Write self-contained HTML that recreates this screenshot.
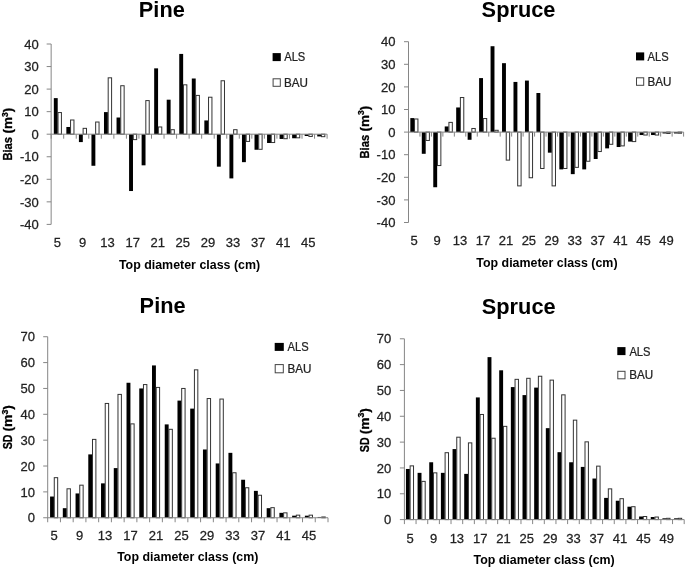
<!DOCTYPE html>
<html><head><meta charset="utf-8"><style>
html,body{margin:0;padding:0;background:#fff;}
body{width:685px;height:567px;overflow:hidden;}
svg{display:block;font-family:"Liberation Sans", sans-serif;filter:grayscale(1);}
text{-webkit-font-smoothing:antialiased;}
.t{stroke:#222;stroke-width:0.25px;}
</style></head><body>
<svg width="685" height="567" viewBox="0 0 685 567">
<rect width="685" height="567" fill="#fff"/>
<rect x="53.82" y="98.12" width="3.9" height="36.08" fill="#000"/>
<rect x="58.02" y="112.55" width="3.4" height="21.65" fill="#fff" stroke="#333" stroke-width="1"/>
<rect x="66.36" y="126.98" width="3.9" height="7.22" fill="#000"/>
<rect x="70.56" y="119.99" width="3.4" height="14.21" fill="#fff" stroke="#333" stroke-width="1"/>
<rect x="78.91" y="134.2" width="3.9" height="7.89" fill="#000"/>
<rect x="83.11" y="128.34" width="3.4" height="5.86" fill="#fff" stroke="#333" stroke-width="1"/>
<rect x="91.45" y="134.2" width="3.9" height="31.57" fill="#000"/>
<rect x="95.65" y="122.02" width="3.4" height="12.18" fill="#fff" stroke="#333" stroke-width="1"/>
<rect x="103.99" y="112.1" width="3.9" height="22.1" fill="#000"/>
<rect x="108.19" y="77.82" width="3.4" height="56.38" fill="#fff" stroke="#333" stroke-width="1"/>
<rect x="116.54" y="117.51" width="3.9" height="16.69" fill="#000"/>
<rect x="120.74" y="85.72" width="3.4" height="48.48" fill="#fff" stroke="#333" stroke-width="1"/>
<rect x="129.08" y="134.2" width="3.9" height="56.83" fill="#000"/>
<rect x="133.28" y="134.2" width="3.4" height="5.41" fill="#fff" stroke="#333" stroke-width="1"/>
<rect x="141.62" y="134.2" width="3.9" height="31.12" fill="#000"/>
<rect x="145.82" y="100.6" width="3.4" height="33.6" fill="#fff" stroke="#333" stroke-width="1"/>
<rect x="154.17" y="68.35" width="3.9" height="65.85" fill="#000"/>
<rect x="158.37" y="126.98" width="3.4" height="7.22" fill="#fff" stroke="#333" stroke-width="1"/>
<rect x="166.71" y="99.7" width="3.9" height="34.5" fill="#000"/>
<rect x="170.91" y="129.69" width="3.4" height="4.51" fill="#fff" stroke="#333" stroke-width="1"/>
<rect x="179.25" y="53.92" width="3.9" height="80.28" fill="#000"/>
<rect x="183.45" y="84.82" width="3.4" height="49.38" fill="#fff" stroke="#333" stroke-width="1"/>
<rect x="191.8" y="78.5" width="3.9" height="55.7" fill="#000"/>
<rect x="196" y="95.41" width="3.4" height="38.79" fill="#fff" stroke="#333" stroke-width="1"/>
<rect x="204.34" y="120.44" width="3.9" height="13.76" fill="#000"/>
<rect x="208.54" y="97.22" width="3.4" height="36.98" fill="#fff" stroke="#333" stroke-width="1"/>
<rect x="216.88" y="134.2" width="3.9" height="32.47" fill="#000"/>
<rect x="221.08" y="80.76" width="3.4" height="53.44" fill="#fff" stroke="#333" stroke-width="1"/>
<rect x="229.43" y="134.2" width="3.9" height="44.2" fill="#000"/>
<rect x="233.63" y="129.69" width="3.4" height="4.51" fill="#fff" stroke="#333" stroke-width="1"/>
<rect x="241.97" y="134.2" width="3.9" height="27.96" fill="#000"/>
<rect x="246.17" y="134.2" width="3.4" height="7.22" fill="#fff" stroke="#333" stroke-width="1"/>
<rect x="254.51" y="134.2" width="3.9" height="15.56" fill="#000"/>
<rect x="258.71" y="134.2" width="3.4" height="15.11" fill="#fff" stroke="#333" stroke-width="1"/>
<rect x="267.06" y="134.2" width="3.9" height="8.79" fill="#000"/>
<rect x="271.26" y="134.2" width="3.4" height="8.34" fill="#fff" stroke="#333" stroke-width="1"/>
<rect x="279.6" y="134.2" width="3.9" height="4.74" fill="#000"/>
<rect x="283.8" y="134.2" width="3.4" height="4.51" fill="#fff" stroke="#333" stroke-width="1"/>
<rect x="292.14" y="134.2" width="3.9" height="4.06" fill="#000"/>
<rect x="296.34" y="134.2" width="3.4" height="3.61" fill="#fff" stroke="#333" stroke-width="1"/>
<rect x="304.69" y="134.2" width="3.9" height="1.8" fill="#000"/>
<rect x="308.89" y="134.2" width="3.4" height="2.25" fill="#fff" stroke="#333" stroke-width="1"/>
<rect x="317.23" y="134.2" width="3.9" height="2.25" fill="#000"/>
<rect x="321.43" y="134.2" width="3.4" height="2.48" fill="#fff" stroke="#333" stroke-width="1"/>
<line x1="51.15" y1="44" x2="51.15" y2="224.4" stroke="#868686" stroke-width="1"/>
<line x1="46.65" y1="224.4" x2="51.15" y2="224.4" stroke="#868686" stroke-width="1"/>
<text class="t" transform="translate(38.7 229.1) scale(1.05 1)" text-anchor="end" font-size="12.4" fill="#222">-40</text>
<line x1="46.65" y1="201.85" x2="51.15" y2="201.85" stroke="#868686" stroke-width="1"/>
<text class="t" transform="translate(38.7 206.55) scale(1.05 1)" text-anchor="end" font-size="12.4" fill="#222">-30</text>
<line x1="46.65" y1="179.3" x2="51.15" y2="179.3" stroke="#868686" stroke-width="1"/>
<text class="t" transform="translate(38.7 184) scale(1.05 1)" text-anchor="end" font-size="12.4" fill="#222">-20</text>
<line x1="46.65" y1="156.75" x2="51.15" y2="156.75" stroke="#868686" stroke-width="1"/>
<text class="t" transform="translate(38.7 161.45) scale(1.05 1)" text-anchor="end" font-size="12.4" fill="#222">-10</text>
<line x1="46.65" y1="134.2" x2="51.15" y2="134.2" stroke="#868686" stroke-width="1"/>
<text class="t" transform="translate(38.7 138.9) scale(1.05 1)" text-anchor="end" font-size="12.4" fill="#222">0</text>
<line x1="46.65" y1="111.65" x2="51.15" y2="111.65" stroke="#868686" stroke-width="1"/>
<text class="t" transform="translate(38.7 116.35) scale(1.05 1)" text-anchor="end" font-size="12.4" fill="#222">10</text>
<line x1="46.65" y1="89.1" x2="51.15" y2="89.1" stroke="#868686" stroke-width="1"/>
<text class="t" transform="translate(38.7 93.8) scale(1.05 1)" text-anchor="end" font-size="12.4" fill="#222">20</text>
<line x1="46.65" y1="66.55" x2="51.15" y2="66.55" stroke="#868686" stroke-width="1"/>
<text class="t" transform="translate(38.7 71.25) scale(1.05 1)" text-anchor="end" font-size="12.4" fill="#222">30</text>
<line x1="46.65" y1="44" x2="51.15" y2="44" stroke="#868686" stroke-width="1"/>
<text class="t" transform="translate(38.7 48.7) scale(1.05 1)" text-anchor="end" font-size="12.4" fill="#222">40</text>
<line x1="50.65" y1="134.2" x2="327.1" y2="134.2" stroke="#868686" stroke-width="1"/>
<line x1="51.15" y1="134.2" x2="51.15" y2="138.7" stroke="#868686" stroke-width="1"/>
<line x1="63.69" y1="134.2" x2="63.69" y2="138.7" stroke="#868686" stroke-width="1"/>
<line x1="76.24" y1="134.2" x2="76.24" y2="138.7" stroke="#868686" stroke-width="1"/>
<line x1="88.78" y1="134.2" x2="88.78" y2="138.7" stroke="#868686" stroke-width="1"/>
<line x1="101.32" y1="134.2" x2="101.32" y2="138.7" stroke="#868686" stroke-width="1"/>
<line x1="113.87" y1="134.2" x2="113.87" y2="138.7" stroke="#868686" stroke-width="1"/>
<line x1="126.41" y1="134.2" x2="126.41" y2="138.7" stroke="#868686" stroke-width="1"/>
<line x1="138.95" y1="134.2" x2="138.95" y2="138.7" stroke="#868686" stroke-width="1"/>
<line x1="151.5" y1="134.2" x2="151.5" y2="138.7" stroke="#868686" stroke-width="1"/>
<line x1="164.04" y1="134.2" x2="164.04" y2="138.7" stroke="#868686" stroke-width="1"/>
<line x1="176.58" y1="134.2" x2="176.58" y2="138.7" stroke="#868686" stroke-width="1"/>
<line x1="189.13" y1="134.2" x2="189.13" y2="138.7" stroke="#868686" stroke-width="1"/>
<line x1="201.67" y1="134.2" x2="201.67" y2="138.7" stroke="#868686" stroke-width="1"/>
<line x1="214.21" y1="134.2" x2="214.21" y2="138.7" stroke="#868686" stroke-width="1"/>
<line x1="226.75" y1="134.2" x2="226.75" y2="138.7" stroke="#868686" stroke-width="1"/>
<line x1="239.3" y1="134.2" x2="239.3" y2="138.7" stroke="#868686" stroke-width="1"/>
<line x1="251.84" y1="134.2" x2="251.84" y2="138.7" stroke="#868686" stroke-width="1"/>
<line x1="264.38" y1="134.2" x2="264.38" y2="138.7" stroke="#868686" stroke-width="1"/>
<line x1="276.93" y1="134.2" x2="276.93" y2="138.7" stroke="#868686" stroke-width="1"/>
<line x1="289.47" y1="134.2" x2="289.47" y2="138.7" stroke="#868686" stroke-width="1"/>
<line x1="302.01" y1="134.2" x2="302.01" y2="138.7" stroke="#868686" stroke-width="1"/>
<line x1="314.56" y1="134.2" x2="314.56" y2="138.7" stroke="#868686" stroke-width="1"/>
<line x1="327.1" y1="134.2" x2="327.1" y2="138.7" stroke="#868686" stroke-width="1"/>
<text class="t" transform="translate(57.42 247.3) scale(1.05 1)" text-anchor="middle" font-size="12.4" fill="#222">5</text>
<text class="t" transform="translate(82.51 247.3) scale(1.05 1)" text-anchor="middle" font-size="12.4" fill="#222">9</text>
<text class="t" transform="translate(107.59 247.3) scale(1.05 1)" text-anchor="middle" font-size="12.4" fill="#222">13</text>
<text class="t" transform="translate(132.68 247.3) scale(1.05 1)" text-anchor="middle" font-size="12.4" fill="#222">17</text>
<text class="t" transform="translate(157.77 247.3) scale(1.05 1)" text-anchor="middle" font-size="12.4" fill="#222">21</text>
<text class="t" transform="translate(182.85 247.3) scale(1.05 1)" text-anchor="middle" font-size="12.4" fill="#222">25</text>
<text class="t" transform="translate(207.94 247.3) scale(1.05 1)" text-anchor="middle" font-size="12.4" fill="#222">29</text>
<text class="t" transform="translate(233.03 247.3) scale(1.05 1)" text-anchor="middle" font-size="12.4" fill="#222">33</text>
<text class="t" transform="translate(258.11 247.3) scale(1.05 1)" text-anchor="middle" font-size="12.4" fill="#222">37</text>
<text class="t" transform="translate(283.2 247.3) scale(1.05 1)" text-anchor="middle" font-size="12.4" fill="#222">41</text>
<text class="t" transform="translate(308.29 247.3) scale(1.05 1)" text-anchor="middle" font-size="12.4" fill="#222">45</text>
<text transform="translate(161.8 16.5) scale(0.99 1)" text-anchor="middle" font-size="22" font-weight="bold" fill="#000">Pine</text>
<text transform="translate(189.5 269.2) scale(0.92 1)" text-anchor="middle" font-size="13.5" font-weight="bold" fill="#000">Top diameter class (cm)</text>
<text transform="translate(11.9 160.6) rotate(-90) scale(0.83 1)" font-size="13.5" font-weight="bold" fill="#000" stroke="#000" stroke-width="0.3">Bias</text>
<text transform="translate(11.9 133.5) rotate(-90) scale(1.0 1)" font-size="13.5" font-weight="bold" fill="#000" stroke="#000" stroke-width="0.3">(m<tspan font-size="8.5" dy="-4.4">3</tspan><tspan dy="4.4">)</tspan></text>
<rect x="272.6" y="53.1" width="8.2" height="8" fill="#000"/>
<text class="t" transform="translate(284.2 61) scale(0.9 1)" font-size="12.4" fill="#222">ALS</text>
<rect x="273.1" y="78.8" width="7.2" height="7.5" fill="#fff" stroke="#444" stroke-width="1"/>
<text class="t" transform="translate(284 86.5) scale(0.94 1)" font-size="12.4" fill="#222">BAU</text>
<rect x="410.33" y="118.09" width="3.9" height="14.01" fill="#000"/>
<rect x="414.53" y="118.99" width="3.4" height="13.11" fill="#fff" stroke="#333" stroke-width="1"/>
<rect x="421.79" y="132.1" width="3.9" height="21.7" fill="#000"/>
<rect x="425.99" y="132.1" width="3.4" height="8.36" fill="#fff" stroke="#333" stroke-width="1"/>
<rect x="433.26" y="132.1" width="3.9" height="55.14" fill="#000"/>
<rect x="437.46" y="132.1" width="3.4" height="33.45" fill="#fff" stroke="#333" stroke-width="1"/>
<rect x="444.72" y="126.45" width="3.9" height="5.65" fill="#000"/>
<rect x="448.92" y="122.38" width="3.4" height="9.72" fill="#fff" stroke="#333" stroke-width="1"/>
<rect x="456.18" y="107.47" width="3.9" height="24.63" fill="#000"/>
<rect x="460.38" y="97.52" width="3.4" height="34.58" fill="#fff" stroke="#333" stroke-width="1"/>
<rect x="467.64" y="132.1" width="3.9" height="7.68" fill="#000"/>
<rect x="471.84" y="128.48" width="3.4" height="3.62" fill="#fff" stroke="#333" stroke-width="1"/>
<rect x="479.11" y="78.09" width="3.9" height="54.01" fill="#000"/>
<rect x="483.31" y="118.54" width="3.4" height="13.56" fill="#fff" stroke="#333" stroke-width="1"/>
<rect x="490.57" y="46.22" width="3.9" height="85.88" fill="#000"/>
<rect x="494.77" y="130.29" width="3.4" height="1.81" fill="#fff" stroke="#333" stroke-width="1"/>
<rect x="502.03" y="63.17" width="3.9" height="68.93" fill="#000"/>
<rect x="506.23" y="132.1" width="3.4" height="28.02" fill="#fff" stroke="#333" stroke-width="1"/>
<rect x="513.49" y="81.93" width="3.9" height="50.17" fill="#000"/>
<rect x="517.69" y="132.1" width="3.4" height="53.79" fill="#fff" stroke="#333" stroke-width="1"/>
<rect x="524.96" y="80.57" width="3.9" height="51.53" fill="#000"/>
<rect x="529.16" y="132.1" width="3.4" height="45.65" fill="#fff" stroke="#333" stroke-width="1"/>
<rect x="536.42" y="93" width="3.9" height="39.1" fill="#000"/>
<rect x="540.62" y="132.1" width="3.4" height="36.39" fill="#fff" stroke="#333" stroke-width="1"/>
<rect x="547.88" y="132.1" width="3.9" height="20.57" fill="#000"/>
<rect x="552.08" y="132.1" width="3.4" height="53.79" fill="#fff" stroke="#333" stroke-width="1"/>
<rect x="559.34" y="132.1" width="3.9" height="37.29" fill="#000"/>
<rect x="563.54" y="132.1" width="3.4" height="36.39" fill="#fff" stroke="#333" stroke-width="1"/>
<rect x="570.81" y="132.1" width="3.9" height="42.04" fill="#000"/>
<rect x="575.01" y="132.1" width="3.4" height="35.26" fill="#fff" stroke="#333" stroke-width="1"/>
<rect x="582.27" y="132.1" width="3.9" height="37.29" fill="#000"/>
<rect x="586.47" y="132.1" width="3.4" height="29.15" fill="#fff" stroke="#333" stroke-width="1"/>
<rect x="593.73" y="132.1" width="3.9" height="26.89" fill="#000"/>
<rect x="597.93" y="132.1" width="3.4" height="19.44" fill="#fff" stroke="#333" stroke-width="1"/>
<rect x="605.19" y="132.1" width="3.9" height="16.27" fill="#000"/>
<rect x="609.39" y="132.1" width="3.4" height="12.2" fill="#fff" stroke="#333" stroke-width="1"/>
<rect x="616.66" y="132.1" width="3.9" height="14.92" fill="#000"/>
<rect x="620.86" y="132.1" width="3.4" height="13.79" fill="#fff" stroke="#333" stroke-width="1"/>
<rect x="628.12" y="132.1" width="3.9" height="9.49" fill="#000"/>
<rect x="632.32" y="132.1" width="3.4" height="9.49" fill="#fff" stroke="#333" stroke-width="1"/>
<rect x="639.58" y="132.1" width="3.9" height="2.94" fill="#000"/>
<rect x="643.78" y="132.1" width="3.4" height="2.94" fill="#fff" stroke="#333" stroke-width="1"/>
<rect x="651.04" y="132.1" width="3.9" height="2.94" fill="#000"/>
<rect x="655.24" y="132.1" width="3.4" height="2.94" fill="#fff" stroke="#333" stroke-width="1"/>
<rect x="662.51" y="132.1" width="3.9" height="1.36" fill="#000"/>
<rect x="666.71" y="132.1" width="3.4" height="1.36" fill="#fff" stroke="#333" stroke-width="1"/>
<rect x="673.97" y="132.1" width="3.9" height="1.36" fill="#000"/>
<rect x="678.17" y="132.1" width="3.4" height="1.13" fill="#fff" stroke="#333" stroke-width="1"/>
<line x1="408.5" y1="41.7" x2="408.5" y2="222.5" stroke="#868686" stroke-width="1"/>
<line x1="404" y1="222.5" x2="408.5" y2="222.5" stroke="#868686" stroke-width="1"/>
<text class="t" transform="translate(395.4 227.2) scale(1.05 1)" text-anchor="end" font-size="12.4" fill="#222">-40</text>
<line x1="404" y1="199.9" x2="408.5" y2="199.9" stroke="#868686" stroke-width="1"/>
<text class="t" transform="translate(395.4 204.6) scale(1.05 1)" text-anchor="end" font-size="12.4" fill="#222">-30</text>
<line x1="404" y1="177.3" x2="408.5" y2="177.3" stroke="#868686" stroke-width="1"/>
<text class="t" transform="translate(395.4 182) scale(1.05 1)" text-anchor="end" font-size="12.4" fill="#222">-20</text>
<line x1="404" y1="154.7" x2="408.5" y2="154.7" stroke="#868686" stroke-width="1"/>
<text class="t" transform="translate(395.4 159.4) scale(1.05 1)" text-anchor="end" font-size="12.4" fill="#222">-10</text>
<line x1="404" y1="132.1" x2="408.5" y2="132.1" stroke="#868686" stroke-width="1"/>
<text class="t" transform="translate(395.4 136.8) scale(1.05 1)" text-anchor="end" font-size="12.4" fill="#222">0</text>
<line x1="404" y1="109.5" x2="408.5" y2="109.5" stroke="#868686" stroke-width="1"/>
<text class="t" transform="translate(395.4 114.2) scale(1.05 1)" text-anchor="end" font-size="12.4" fill="#222">10</text>
<line x1="404" y1="86.9" x2="408.5" y2="86.9" stroke="#868686" stroke-width="1"/>
<text class="t" transform="translate(395.4 91.6) scale(1.05 1)" text-anchor="end" font-size="12.4" fill="#222">20</text>
<line x1="404" y1="64.3" x2="408.5" y2="64.3" stroke="#868686" stroke-width="1"/>
<text class="t" transform="translate(395.4 69) scale(1.05 1)" text-anchor="end" font-size="12.4" fill="#222">30</text>
<line x1="404" y1="41.7" x2="408.5" y2="41.7" stroke="#868686" stroke-width="1"/>
<text class="t" transform="translate(395.4 46.4) scale(1.05 1)" text-anchor="end" font-size="12.4" fill="#222">40</text>
<line x1="408" y1="132.1" x2="683.6" y2="132.1" stroke="#868686" stroke-width="1"/>
<line x1="408.5" y1="132.1" x2="408.5" y2="136.6" stroke="#868686" stroke-width="1"/>
<line x1="419.96" y1="132.1" x2="419.96" y2="136.6" stroke="#868686" stroke-width="1"/>
<line x1="431.43" y1="132.1" x2="431.43" y2="136.6" stroke="#868686" stroke-width="1"/>
<line x1="442.89" y1="132.1" x2="442.89" y2="136.6" stroke="#868686" stroke-width="1"/>
<line x1="454.35" y1="132.1" x2="454.35" y2="136.6" stroke="#868686" stroke-width="1"/>
<line x1="465.81" y1="132.1" x2="465.81" y2="136.6" stroke="#868686" stroke-width="1"/>
<line x1="477.27" y1="132.1" x2="477.27" y2="136.6" stroke="#868686" stroke-width="1"/>
<line x1="488.74" y1="132.1" x2="488.74" y2="136.6" stroke="#868686" stroke-width="1"/>
<line x1="500.2" y1="132.1" x2="500.2" y2="136.6" stroke="#868686" stroke-width="1"/>
<line x1="511.66" y1="132.1" x2="511.66" y2="136.6" stroke="#868686" stroke-width="1"/>
<line x1="523.12" y1="132.1" x2="523.12" y2="136.6" stroke="#868686" stroke-width="1"/>
<line x1="534.59" y1="132.1" x2="534.59" y2="136.6" stroke="#868686" stroke-width="1"/>
<line x1="546.05" y1="132.1" x2="546.05" y2="136.6" stroke="#868686" stroke-width="1"/>
<line x1="557.51" y1="132.1" x2="557.51" y2="136.6" stroke="#868686" stroke-width="1"/>
<line x1="568.98" y1="132.1" x2="568.98" y2="136.6" stroke="#868686" stroke-width="1"/>
<line x1="580.44" y1="132.1" x2="580.44" y2="136.6" stroke="#868686" stroke-width="1"/>
<line x1="591.9" y1="132.1" x2="591.9" y2="136.6" stroke="#868686" stroke-width="1"/>
<line x1="603.36" y1="132.1" x2="603.36" y2="136.6" stroke="#868686" stroke-width="1"/>
<line x1="614.83" y1="132.1" x2="614.83" y2="136.6" stroke="#868686" stroke-width="1"/>
<line x1="626.29" y1="132.1" x2="626.29" y2="136.6" stroke="#868686" stroke-width="1"/>
<line x1="637.75" y1="132.1" x2="637.75" y2="136.6" stroke="#868686" stroke-width="1"/>
<line x1="649.21" y1="132.1" x2="649.21" y2="136.6" stroke="#868686" stroke-width="1"/>
<line x1="660.67" y1="132.1" x2="660.67" y2="136.6" stroke="#868686" stroke-width="1"/>
<line x1="672.14" y1="132.1" x2="672.14" y2="136.6" stroke="#868686" stroke-width="1"/>
<line x1="683.6" y1="132.1" x2="683.6" y2="136.6" stroke="#868686" stroke-width="1"/>
<text class="t" transform="translate(414.23 245.3) scale(1.05 1)" text-anchor="middle" font-size="12.4" fill="#222">5</text>
<text class="t" transform="translate(437.16 245.3) scale(1.05 1)" text-anchor="middle" font-size="12.4" fill="#222">9</text>
<text class="t" transform="translate(460.08 245.3) scale(1.05 1)" text-anchor="middle" font-size="12.4" fill="#222">13</text>
<text class="t" transform="translate(483.01 245.3) scale(1.05 1)" text-anchor="middle" font-size="12.4" fill="#222">17</text>
<text class="t" transform="translate(505.93 245.3) scale(1.05 1)" text-anchor="middle" font-size="12.4" fill="#222">21</text>
<text class="t" transform="translate(528.86 245.3) scale(1.05 1)" text-anchor="middle" font-size="12.4" fill="#222">25</text>
<text class="t" transform="translate(551.78 245.3) scale(1.05 1)" text-anchor="middle" font-size="12.4" fill="#222">29</text>
<text class="t" transform="translate(574.71 245.3) scale(1.05 1)" text-anchor="middle" font-size="12.4" fill="#222">33</text>
<text class="t" transform="translate(597.63 245.3) scale(1.05 1)" text-anchor="middle" font-size="12.4" fill="#222">37</text>
<text class="t" transform="translate(620.56 245.3) scale(1.05 1)" text-anchor="middle" font-size="12.4" fill="#222">41</text>
<text class="t" transform="translate(643.48 245.3) scale(1.05 1)" text-anchor="middle" font-size="12.4" fill="#222">45</text>
<text class="t" transform="translate(666.41 245.3) scale(1.05 1)" text-anchor="middle" font-size="12.4" fill="#222">49</text>
<text transform="translate(518.5 16.8) scale(0.99 1)" text-anchor="middle" font-size="22" font-weight="bold" fill="#000">Spruce</text>
<text transform="translate(546.9 266.7) scale(0.92 1)" text-anchor="middle" font-size="13.5" font-weight="bold" fill="#000">Top diameter class (cm)</text>
<text transform="translate(368.7 158.5) rotate(-90) scale(0.83 1)" font-size="13.5" font-weight="bold" fill="#000" stroke="#000" stroke-width="0.3">Bias</text>
<text transform="translate(368.7 131.4) rotate(-90) scale(1.0 1)" font-size="13.5" font-weight="bold" fill="#000" stroke="#000" stroke-width="0.3">(m<tspan font-size="8.5" dy="-4.4">3</tspan><tspan dy="4.4">)</tspan></text>
<rect x="636" y="52.4" width="8.2" height="8" fill="#000"/>
<text class="t" transform="translate(647.6 60.6) scale(0.9 1)" font-size="12.4" fill="#222">ALS</text>
<rect x="636.5" y="77.8" width="7.2" height="7.5" fill="#fff" stroke="#444" stroke-width="1"/>
<text class="t" transform="translate(647.4 85.7) scale(0.94 1)" font-size="12.4" fill="#222">BAU</text>
<rect x="50.07" y="496.54" width="3.9" height="21.21" fill="#000"/>
<rect x="54.27" y="477.67" width="3.4" height="40.08" fill="#fff" stroke="#333" stroke-width="1"/>
<rect x="62.81" y="508.18" width="3.9" height="9.57" fill="#000"/>
<rect x="67.01" y="488.79" width="3.4" height="28.96" fill="#fff" stroke="#333" stroke-width="1"/>
<rect x="75.55" y="493.44" width="3.9" height="24.31" fill="#000"/>
<rect x="79.75" y="485.17" width="3.4" height="32.58" fill="#fff" stroke="#333" stroke-width="1"/>
<rect x="88.29" y="454.39" width="3.9" height="63.36" fill="#000"/>
<rect x="92.49" y="439.39" width="3.4" height="78.36" fill="#fff" stroke="#333" stroke-width="1"/>
<rect x="101.03" y="483.36" width="3.9" height="34.39" fill="#000"/>
<rect x="105.23" y="403.45" width="3.4" height="114.3" fill="#fff" stroke="#333" stroke-width="1"/>
<rect x="113.78" y="468.1" width="3.9" height="49.65" fill="#000"/>
<rect x="117.98" y="394.4" width="3.4" height="123.35" fill="#fff" stroke="#333" stroke-width="1"/>
<rect x="126.52" y="382.76" width="3.9" height="134.99" fill="#000"/>
<rect x="130.72" y="423.88" width="3.4" height="93.87" fill="#fff" stroke="#333" stroke-width="1"/>
<rect x="139.26" y="388.45" width="3.9" height="129.3" fill="#000"/>
<rect x="143.46" y="384.57" width="3.4" height="133.18" fill="#fff" stroke="#333" stroke-width="1"/>
<rect x="152" y="365.43" width="3.9" height="152.32" fill="#000"/>
<rect x="156.2" y="387.42" width="3.4" height="130.33" fill="#fff" stroke="#333" stroke-width="1"/>
<rect x="164.74" y="424.4" width="3.9" height="93.35" fill="#000"/>
<rect x="168.94" y="429.31" width="3.4" height="88.44" fill="#fff" stroke="#333" stroke-width="1"/>
<rect x="177.48" y="400.6" width="3.9" height="117.15" fill="#000"/>
<rect x="181.68" y="388.45" width="3.4" height="129.3" fill="#fff" stroke="#333" stroke-width="1"/>
<rect x="190.22" y="408.62" width="3.9" height="109.13" fill="#000"/>
<rect x="194.42" y="369.83" width="3.4" height="147.92" fill="#fff" stroke="#333" stroke-width="1"/>
<rect x="202.96" y="449.48" width="3.9" height="68.27" fill="#000"/>
<rect x="207.16" y="398.54" width="3.4" height="119.21" fill="#fff" stroke="#333" stroke-width="1"/>
<rect x="215.7" y="463.44" width="3.9" height="54.31" fill="#000"/>
<rect x="219.9" y="399.05" width="3.4" height="118.7" fill="#fff" stroke="#333" stroke-width="1"/>
<rect x="228.44" y="452.84" width="3.9" height="64.91" fill="#000"/>
<rect x="232.64" y="472.75" width="3.4" height="45" fill="#fff" stroke="#333" stroke-width="1"/>
<rect x="241.18" y="479.74" width="3.9" height="38.01" fill="#000"/>
<rect x="245.38" y="487.75" width="3.4" height="30" fill="#fff" stroke="#333" stroke-width="1"/>
<rect x="253.92" y="490.86" width="3.9" height="26.89" fill="#000"/>
<rect x="258.12" y="495.25" width="3.4" height="22.5" fill="#fff" stroke="#333" stroke-width="1"/>
<rect x="266.67" y="508.18" width="3.9" height="9.57" fill="#000"/>
<rect x="270.87" y="507.66" width="3.4" height="10.09" fill="#fff" stroke="#333" stroke-width="1"/>
<rect x="279.41" y="512.84" width="3.9" height="4.91" fill="#000"/>
<rect x="283.61" y="512.84" width="3.4" height="4.91" fill="#fff" stroke="#333" stroke-width="1"/>
<rect x="292.15" y="515.68" width="3.9" height="2.07" fill="#000"/>
<rect x="296.35" y="515.16" width="3.4" height="2.59" fill="#fff" stroke="#333" stroke-width="1"/>
<rect x="304.89" y="515.68" width="3.9" height="2.07" fill="#000"/>
<rect x="309.09" y="515.16" width="3.4" height="2.59" fill="#fff" stroke="#333" stroke-width="1"/>
<rect x="317.63" y="516.97" width="3.9" height="0.78" fill="#000"/>
<rect x="321.83" y="516.97" width="3.4" height="0.78" fill="#fff" stroke="#333" stroke-width="1"/>
<line x1="47.7" y1="336.73" x2="47.7" y2="517.75" stroke="#868686" stroke-width="1"/>
<line x1="43.2" y1="517.75" x2="47.7" y2="517.75" stroke="#868686" stroke-width="1"/>
<text class="t" transform="translate(35.1 522.45) scale(1.05 1)" text-anchor="end" font-size="12.4" fill="#222">0</text>
<line x1="43.2" y1="491.89" x2="47.7" y2="491.89" stroke="#868686" stroke-width="1"/>
<text class="t" transform="translate(35.1 496.59) scale(1.05 1)" text-anchor="end" font-size="12.4" fill="#222">10</text>
<line x1="43.2" y1="466.03" x2="47.7" y2="466.03" stroke="#868686" stroke-width="1"/>
<text class="t" transform="translate(35.1 470.73) scale(1.05 1)" text-anchor="end" font-size="12.4" fill="#222">20</text>
<line x1="43.2" y1="440.17" x2="47.7" y2="440.17" stroke="#868686" stroke-width="1"/>
<text class="t" transform="translate(35.1 444.87) scale(1.05 1)" text-anchor="end" font-size="12.4" fill="#222">30</text>
<line x1="43.2" y1="414.31" x2="47.7" y2="414.31" stroke="#868686" stroke-width="1"/>
<text class="t" transform="translate(35.1 419.01) scale(1.05 1)" text-anchor="end" font-size="12.4" fill="#222">40</text>
<line x1="43.2" y1="388.45" x2="47.7" y2="388.45" stroke="#868686" stroke-width="1"/>
<text class="t" transform="translate(35.1 393.15) scale(1.05 1)" text-anchor="end" font-size="12.4" fill="#222">50</text>
<line x1="43.2" y1="362.59" x2="47.7" y2="362.59" stroke="#868686" stroke-width="1"/>
<text class="t" transform="translate(35.1 367.29) scale(1.05 1)" text-anchor="end" font-size="12.4" fill="#222">60</text>
<line x1="43.2" y1="336.73" x2="47.7" y2="336.73" stroke="#868686" stroke-width="1"/>
<text class="t" transform="translate(35.1 341.43) scale(1.05 1)" text-anchor="end" font-size="12.4" fill="#222">70</text>
<line x1="47.2" y1="517.75" x2="328" y2="517.75" stroke="#868686" stroke-width="1"/>
<line x1="47.7" y1="517.75" x2="47.7" y2="522.25" stroke="#868686" stroke-width="1"/>
<line x1="60.44" y1="517.75" x2="60.44" y2="522.25" stroke="#868686" stroke-width="1"/>
<line x1="73.18" y1="517.75" x2="73.18" y2="522.25" stroke="#868686" stroke-width="1"/>
<line x1="85.92" y1="517.75" x2="85.92" y2="522.25" stroke="#868686" stroke-width="1"/>
<line x1="98.66" y1="517.75" x2="98.66" y2="522.25" stroke="#868686" stroke-width="1"/>
<line x1="111.4" y1="517.75" x2="111.4" y2="522.25" stroke="#868686" stroke-width="1"/>
<line x1="124.15" y1="517.75" x2="124.15" y2="522.25" stroke="#868686" stroke-width="1"/>
<line x1="136.89" y1="517.75" x2="136.89" y2="522.25" stroke="#868686" stroke-width="1"/>
<line x1="149.63" y1="517.75" x2="149.63" y2="522.25" stroke="#868686" stroke-width="1"/>
<line x1="162.37" y1="517.75" x2="162.37" y2="522.25" stroke="#868686" stroke-width="1"/>
<line x1="175.11" y1="517.75" x2="175.11" y2="522.25" stroke="#868686" stroke-width="1"/>
<line x1="187.85" y1="517.75" x2="187.85" y2="522.25" stroke="#868686" stroke-width="1"/>
<line x1="200.59" y1="517.75" x2="200.59" y2="522.25" stroke="#868686" stroke-width="1"/>
<line x1="213.33" y1="517.75" x2="213.33" y2="522.25" stroke="#868686" stroke-width="1"/>
<line x1="226.07" y1="517.75" x2="226.07" y2="522.25" stroke="#868686" stroke-width="1"/>
<line x1="238.81" y1="517.75" x2="238.81" y2="522.25" stroke="#868686" stroke-width="1"/>
<line x1="251.55" y1="517.75" x2="251.55" y2="522.25" stroke="#868686" stroke-width="1"/>
<line x1="264.3" y1="517.75" x2="264.3" y2="522.25" stroke="#868686" stroke-width="1"/>
<line x1="277.04" y1="517.75" x2="277.04" y2="522.25" stroke="#868686" stroke-width="1"/>
<line x1="289.78" y1="517.75" x2="289.78" y2="522.25" stroke="#868686" stroke-width="1"/>
<line x1="302.52" y1="517.75" x2="302.52" y2="522.25" stroke="#868686" stroke-width="1"/>
<line x1="315.26" y1="517.75" x2="315.26" y2="522.25" stroke="#868686" stroke-width="1"/>
<line x1="328" y1="517.75" x2="328" y2="522.25" stroke="#868686" stroke-width="1"/>
<text class="t" transform="translate(54.07 540.3) scale(1.05 1)" text-anchor="middle" font-size="12.4" fill="#222">5</text>
<text class="t" transform="translate(79.55 540.3) scale(1.05 1)" text-anchor="middle" font-size="12.4" fill="#222">9</text>
<text class="t" transform="translate(105.03 540.3) scale(1.05 1)" text-anchor="middle" font-size="12.4" fill="#222">13</text>
<text class="t" transform="translate(130.52 540.3) scale(1.05 1)" text-anchor="middle" font-size="12.4" fill="#222">17</text>
<text class="t" transform="translate(156 540.3) scale(1.05 1)" text-anchor="middle" font-size="12.4" fill="#222">21</text>
<text class="t" transform="translate(181.48 540.3) scale(1.05 1)" text-anchor="middle" font-size="12.4" fill="#222">25</text>
<text class="t" transform="translate(206.96 540.3) scale(1.05 1)" text-anchor="middle" font-size="12.4" fill="#222">29</text>
<text class="t" transform="translate(232.44 540.3) scale(1.05 1)" text-anchor="middle" font-size="12.4" fill="#222">33</text>
<text class="t" transform="translate(257.93 540.3) scale(1.05 1)" text-anchor="middle" font-size="12.4" fill="#222">37</text>
<text class="t" transform="translate(283.41 540.3) scale(1.05 1)" text-anchor="middle" font-size="12.4" fill="#222">41</text>
<text class="t" transform="translate(308.89 540.3) scale(1.05 1)" text-anchor="middle" font-size="12.4" fill="#222">45</text>
<text transform="translate(162.6 313.3) scale(0.99 1)" text-anchor="middle" font-size="22" font-weight="bold" fill="#000">Pine</text>
<text transform="translate(187.8 561.3) scale(0.92 1)" text-anchor="middle" font-size="13.5" font-weight="bold" fill="#000">Top diameter class (cm)</text>
<text transform="translate(12 449.3) rotate(-90) scale(0.79 1)" font-size="13.5" font-weight="bold" fill="#000" stroke="#000" stroke-width="0.3">SD</text>
<text transform="translate(12 431.5) rotate(-90) scale(1.03 1)" font-size="13.5" font-weight="bold" fill="#000" stroke="#000" stroke-width="0.3">(m<tspan font-size="8.5" dy="-4.4">3</tspan><tspan dy="4.4">)</tspan></text>
<rect x="274.7" y="342.9" width="9.1" height="8" fill="#000"/>
<text class="t" transform="translate(287.6 350.8) scale(0.9 1)" font-size="12.4" fill="#222">ALS</text>
<rect x="275.2" y="364.6" width="8.1" height="8.2" fill="#fff" stroke="#444" stroke-width="1"/>
<text class="t" transform="translate(287.4 373.1) scale(0.94 1)" font-size="12.4" fill="#222">BAU</text>
<rect x="405.93" y="468.97" width="3.9" height="50.63" fill="#000"/>
<rect x="410.13" y="465.87" width="3.4" height="53.73" fill="#fff" stroke="#333" stroke-width="1"/>
<rect x="417.59" y="472.85" width="3.9" height="46.75" fill="#000"/>
<rect x="421.79" y="481.37" width="3.4" height="38.23" fill="#fff" stroke="#333" stroke-width="1"/>
<rect x="429.25" y="462.26" width="3.9" height="57.34" fill="#000"/>
<rect x="433.45" y="472.85" width="3.4" height="46.75" fill="#fff" stroke="#333" stroke-width="1"/>
<rect x="440.9" y="472.85" width="3.9" height="46.75" fill="#000"/>
<rect x="445.1" y="452.7" width="3.4" height="66.9" fill="#fff" stroke="#333" stroke-width="1"/>
<rect x="452.56" y="449.08" width="3.9" height="70.52" fill="#000"/>
<rect x="456.76" y="437.2" width="3.4" height="82.4" fill="#fff" stroke="#333" stroke-width="1"/>
<rect x="464.22" y="473.88" width="3.9" height="45.72" fill="#000"/>
<rect x="468.42" y="442.88" width="3.4" height="76.72" fill="#fff" stroke="#333" stroke-width="1"/>
<rect x="475.88" y="397.42" width="3.9" height="122.18" fill="#000"/>
<rect x="480.08" y="414.47" width="3.4" height="105.13" fill="#fff" stroke="#333" stroke-width="1"/>
<rect x="487.54" y="357.13" width="3.9" height="162.47" fill="#000"/>
<rect x="491.74" y="438.24" width="3.4" height="81.36" fill="#fff" stroke="#333" stroke-width="1"/>
<rect x="499.2" y="370.3" width="3.9" height="149.3" fill="#000"/>
<rect x="503.4" y="426.35" width="3.4" height="93.25" fill="#fff" stroke="#333" stroke-width="1"/>
<rect x="510.85" y="387.09" width="3.9" height="132.51" fill="#000"/>
<rect x="515.05" y="379.34" width="3.4" height="140.26" fill="#fff" stroke="#333" stroke-width="1"/>
<rect x="522.51" y="395.1" width="3.9" height="124.5" fill="#000"/>
<rect x="526.71" y="378.31" width="3.4" height="141.29" fill="#fff" stroke="#333" stroke-width="1"/>
<rect x="534.17" y="387.61" width="3.9" height="131.99" fill="#000"/>
<rect x="538.37" y="376.24" width="3.4" height="143.36" fill="#fff" stroke="#333" stroke-width="1"/>
<rect x="545.83" y="428.16" width="3.9" height="91.44" fill="#000"/>
<rect x="550.03" y="380.12" width="3.4" height="139.48" fill="#fff" stroke="#333" stroke-width="1"/>
<rect x="557.49" y="452.18" width="3.9" height="67.42" fill="#000"/>
<rect x="561.69" y="394.84" width="3.4" height="124.76" fill="#fff" stroke="#333" stroke-width="1"/>
<rect x="569.15" y="462.26" width="3.9" height="57.34" fill="#000"/>
<rect x="573.35" y="420.15" width="3.4" height="99.45" fill="#fff" stroke="#333" stroke-width="1"/>
<rect x="580.8" y="466.91" width="3.9" height="52.69" fill="#000"/>
<rect x="585" y="441.85" width="3.4" height="77.75" fill="#fff" stroke="#333" stroke-width="1"/>
<rect x="592.46" y="478.53" width="3.9" height="41.07" fill="#000"/>
<rect x="596.66" y="466.13" width="3.4" height="53.47" fill="#fff" stroke="#333" stroke-width="1"/>
<rect x="604.12" y="497.9" width="3.9" height="21.7" fill="#000"/>
<rect x="608.32" y="488.86" width="3.4" height="30.74" fill="#fff" stroke="#333" stroke-width="1"/>
<rect x="615.78" y="500.74" width="3.9" height="18.86" fill="#000"/>
<rect x="619.98" y="498.68" width="3.4" height="20.92" fill="#fff" stroke="#333" stroke-width="1"/>
<rect x="627.44" y="506.69" width="3.9" height="12.92" fill="#000"/>
<rect x="631.64" y="506.69" width="3.4" height="12.92" fill="#fff" stroke="#333" stroke-width="1"/>
<rect x="639.1" y="516.5" width="3.9" height="3.1" fill="#000"/>
<rect x="643.3" y="516.5" width="3.4" height="3.1" fill="#fff" stroke="#333" stroke-width="1"/>
<rect x="650.75" y="517.02" width="3.9" height="2.58" fill="#000"/>
<rect x="654.95" y="517.02" width="3.4" height="2.58" fill="#fff" stroke="#333" stroke-width="1"/>
<rect x="662.41" y="518.31" width="3.9" height="1.29" fill="#000"/>
<rect x="666.61" y="518.31" width="3.4" height="1.29" fill="#fff" stroke="#333" stroke-width="1"/>
<rect x="674.07" y="518.31" width="3.9" height="1.29" fill="#000"/>
<rect x="678.27" y="518.31" width="3.4" height="1.29" fill="#fff" stroke="#333" stroke-width="1"/>
<line x1="404.4" y1="338.79" x2="404.4" y2="519.6" stroke="#868686" stroke-width="1"/>
<line x1="399.9" y1="519.6" x2="404.4" y2="519.6" stroke="#868686" stroke-width="1"/>
<text class="t" transform="translate(391.2 524.3) scale(1.05 1)" text-anchor="end" font-size="12.4" fill="#222">0</text>
<line x1="399.9" y1="493.77" x2="404.4" y2="493.77" stroke="#868686" stroke-width="1"/>
<text class="t" transform="translate(391.2 498.47) scale(1.05 1)" text-anchor="end" font-size="12.4" fill="#222">10</text>
<line x1="399.9" y1="467.94" x2="404.4" y2="467.94" stroke="#868686" stroke-width="1"/>
<text class="t" transform="translate(391.2 472.64) scale(1.05 1)" text-anchor="end" font-size="12.4" fill="#222">20</text>
<line x1="399.9" y1="442.11" x2="404.4" y2="442.11" stroke="#868686" stroke-width="1"/>
<text class="t" transform="translate(391.2 446.81) scale(1.05 1)" text-anchor="end" font-size="12.4" fill="#222">30</text>
<line x1="399.9" y1="416.28" x2="404.4" y2="416.28" stroke="#868686" stroke-width="1"/>
<text class="t" transform="translate(391.2 420.98) scale(1.05 1)" text-anchor="end" font-size="12.4" fill="#222">40</text>
<line x1="399.9" y1="390.45" x2="404.4" y2="390.45" stroke="#868686" stroke-width="1"/>
<text class="t" transform="translate(391.2 395.15) scale(1.05 1)" text-anchor="end" font-size="12.4" fill="#222">50</text>
<line x1="399.9" y1="364.62" x2="404.4" y2="364.62" stroke="#868686" stroke-width="1"/>
<text class="t" transform="translate(391.2 369.32) scale(1.05 1)" text-anchor="end" font-size="12.4" fill="#222">60</text>
<line x1="399.9" y1="338.79" x2="404.4" y2="338.79" stroke="#868686" stroke-width="1"/>
<text class="t" transform="translate(391.2 343.49) scale(1.05 1)" text-anchor="end" font-size="12.4" fill="#222">70</text>
<line x1="403.9" y1="519.6" x2="684.2" y2="519.6" stroke="#868686" stroke-width="1"/>
<line x1="404.4" y1="519.6" x2="404.4" y2="524.1" stroke="#868686" stroke-width="1"/>
<line x1="416.06" y1="519.6" x2="416.06" y2="524.1" stroke="#868686" stroke-width="1"/>
<line x1="427.72" y1="519.6" x2="427.72" y2="524.1" stroke="#868686" stroke-width="1"/>
<line x1="439.38" y1="519.6" x2="439.38" y2="524.1" stroke="#868686" stroke-width="1"/>
<line x1="451.03" y1="519.6" x2="451.03" y2="524.1" stroke="#868686" stroke-width="1"/>
<line x1="462.69" y1="519.6" x2="462.69" y2="524.1" stroke="#868686" stroke-width="1"/>
<line x1="474.35" y1="519.6" x2="474.35" y2="524.1" stroke="#868686" stroke-width="1"/>
<line x1="486.01" y1="519.6" x2="486.01" y2="524.1" stroke="#868686" stroke-width="1"/>
<line x1="497.67" y1="519.6" x2="497.67" y2="524.1" stroke="#868686" stroke-width="1"/>
<line x1="509.32" y1="519.6" x2="509.32" y2="524.1" stroke="#868686" stroke-width="1"/>
<line x1="520.98" y1="519.6" x2="520.98" y2="524.1" stroke="#868686" stroke-width="1"/>
<line x1="532.64" y1="519.6" x2="532.64" y2="524.1" stroke="#868686" stroke-width="1"/>
<line x1="544.3" y1="519.6" x2="544.3" y2="524.1" stroke="#868686" stroke-width="1"/>
<line x1="555.96" y1="519.6" x2="555.96" y2="524.1" stroke="#868686" stroke-width="1"/>
<line x1="567.62" y1="519.6" x2="567.62" y2="524.1" stroke="#868686" stroke-width="1"/>
<line x1="579.28" y1="519.6" x2="579.28" y2="524.1" stroke="#868686" stroke-width="1"/>
<line x1="590.93" y1="519.6" x2="590.93" y2="524.1" stroke="#868686" stroke-width="1"/>
<line x1="602.59" y1="519.6" x2="602.59" y2="524.1" stroke="#868686" stroke-width="1"/>
<line x1="614.25" y1="519.6" x2="614.25" y2="524.1" stroke="#868686" stroke-width="1"/>
<line x1="625.91" y1="519.6" x2="625.91" y2="524.1" stroke="#868686" stroke-width="1"/>
<line x1="637.57" y1="519.6" x2="637.57" y2="524.1" stroke="#868686" stroke-width="1"/>
<line x1="649.23" y1="519.6" x2="649.23" y2="524.1" stroke="#868686" stroke-width="1"/>
<line x1="660.88" y1="519.6" x2="660.88" y2="524.1" stroke="#868686" stroke-width="1"/>
<line x1="672.54" y1="519.6" x2="672.54" y2="524.1" stroke="#868686" stroke-width="1"/>
<line x1="684.2" y1="519.6" x2="684.2" y2="524.1" stroke="#868686" stroke-width="1"/>
<text class="t" transform="translate(410.23 542.6) scale(1.05 1)" text-anchor="middle" font-size="12.4" fill="#222">5</text>
<text class="t" transform="translate(433.55 542.6) scale(1.05 1)" text-anchor="middle" font-size="12.4" fill="#222">9</text>
<text class="t" transform="translate(456.86 542.6) scale(1.05 1)" text-anchor="middle" font-size="12.4" fill="#222">13</text>
<text class="t" transform="translate(480.18 542.6) scale(1.05 1)" text-anchor="middle" font-size="12.4" fill="#222">17</text>
<text class="t" transform="translate(503.5 542.6) scale(1.05 1)" text-anchor="middle" font-size="12.4" fill="#222">21</text>
<text class="t" transform="translate(526.81 542.6) scale(1.05 1)" text-anchor="middle" font-size="12.4" fill="#222">25</text>
<text class="t" transform="translate(550.13 542.6) scale(1.05 1)" text-anchor="middle" font-size="12.4" fill="#222">29</text>
<text class="t" transform="translate(573.45 542.6) scale(1.05 1)" text-anchor="middle" font-size="12.4" fill="#222">33</text>
<text class="t" transform="translate(596.76 542.6) scale(1.05 1)" text-anchor="middle" font-size="12.4" fill="#222">37</text>
<text class="t" transform="translate(620.08 542.6) scale(1.05 1)" text-anchor="middle" font-size="12.4" fill="#222">41</text>
<text class="t" transform="translate(643.4 542.6) scale(1.05 1)" text-anchor="middle" font-size="12.4" fill="#222">45</text>
<text class="t" transform="translate(666.71 542.6) scale(1.05 1)" text-anchor="middle" font-size="12.4" fill="#222">49</text>
<text transform="translate(518.7 314.2) scale(0.99 1)" text-anchor="middle" font-size="22" font-weight="bold" fill="#000">Spruce</text>
<text transform="translate(544.1 563.7) scale(0.92 1)" text-anchor="middle" font-size="13.5" font-weight="bold" fill="#000">Top diameter class (cm)</text>
<text transform="translate(368.6 452.2) rotate(-90) scale(0.79 1)" font-size="13.5" font-weight="bold" fill="#000" stroke="#000" stroke-width="0.3">SD</text>
<text transform="translate(368.6 434.3) rotate(-90) scale(1.02 1)" font-size="13.5" font-weight="bold" fill="#000" stroke="#000" stroke-width="0.3">(m<tspan font-size="8.5" dy="-4.4">3</tspan><tspan dy="4.4">)</tspan></text>
<rect x="617.3" y="347.1" width="8.2" height="8" fill="#000"/>
<text class="t" transform="translate(629.4 355.8) scale(0.9 1)" font-size="12.4" fill="#222">ALS</text>
<rect x="617.8" y="371.3" width="7.2" height="7.5" fill="#fff" stroke="#444" stroke-width="1"/>
<text class="t" transform="translate(629.2 378.6) scale(0.94 1)" font-size="12.4" fill="#222">BAU</text>
</svg>
</body></html>
